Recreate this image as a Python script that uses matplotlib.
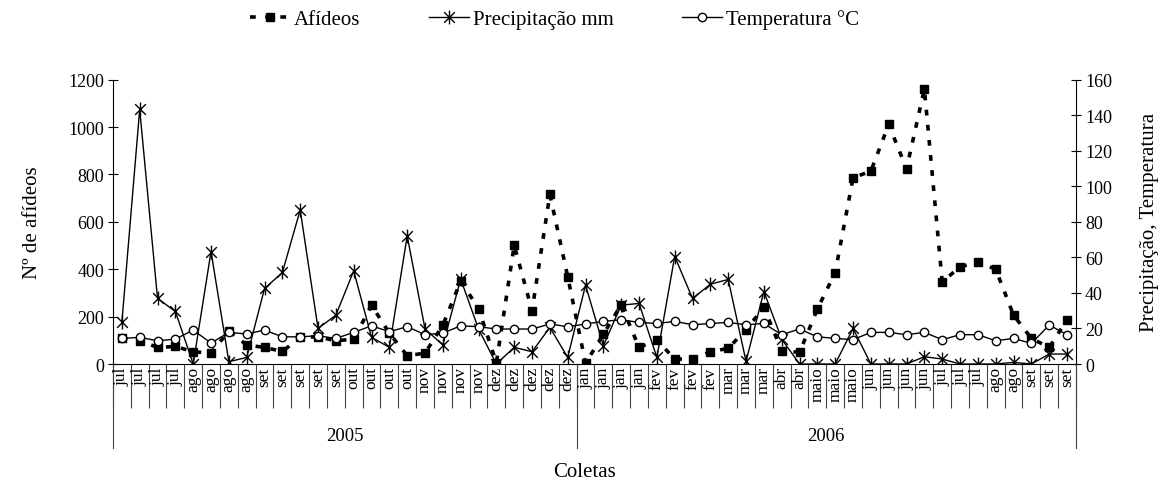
import matplotlib
matplotlib.use('Agg')
import matplotlib.pyplot as plt
from matplotlib.path import Path

plt.rcParams['font.family'] = ['Liberation Serif', 'DejaVu Serif']

# Coletas (category labels) and years
meses_2005 = ['jul'] * 4 + ['ago'] * 4 + ['set'] * 5 + ['out'] * 4 + ['nov'] * 4 + ['dez'] * 5
meses_2006 = (['jan'] * 4 + ['fev'] * 4 + ['mar'] * 3 + ['abr'] * 2 + ['maio'] * 3
              + ['jun'] * 4 + ['jul'] * 3 + ['ago'] * 2 + ['set'] * 3)
anos = ['2005', '2006']
meses = meses_2005 + meses_2006

# Series
afideos = [110, 98, 70, 74, 52, 46, 140, 80, 70, 53,
           112, 115, 98, 105, 248, 130, 35, 46, 164, 350,
           234, 5, 501, 225, 716, 369, 3, 126, 250, 70,
           101, 21, 21, 52, 66, 145, 239, 56, 49, 232,
           386, 786, 814, 1011, 824, 1161, 347, 410, 431, 400,
           206, 108, 70, 187]
precipitacao = [23.4, 143.3, 36.9, 29.6, 0, 63.3, 1.3, 3.7, 42.5, 51.5,
                86.7, 20, 27.5, 52.4, 15, 9.4, 72.1, 19.7, 10.7, 47.8,
                19.7, 0, 9.4, 6.9, 20.6, 3.7, 44.4, 10.3, 33.1, 34.1,
                3.7, 60.5, 36.9, 44.9, 47.6, 1.5, 40.8, 14, 0, 0,
                0, 20, 0, 0, 0, 4.1, 2.8, 0, 0, 0,
                0.9, 0, 5.6, 5.6]
temperatura = [14.4, 15, 13.1, 14, 19.1, 11.8, 17.8, 16.9, 19.1, 15.3,
               15.3, 15.9, 14.4, 17.8, 21.5, 18.2, 21, 16.5, 17.4, 21.5,
               21, 19.7, 19.7, 19.7, 22.5, 21, 22.5, 24, 24.9, 23.4,
               22.8, 24, 22.1, 22.8, 23.4, 22.1, 22.8, 16.5, 19.7, 15.3,
               14.4, 13.7, 17.8, 17.8, 16.5, 17.8, 13.7, 16.5, 16.5, 13.1,
               14.4, 11.6, 21.9, 16.5]

n = len(meses)
x = [i + 0.5 for i in range(n)]

# star marker like the Excel one (X with a vertical bar)
star = Path([(-1, -1), (1, 1), (-1, 1), (1, -1), (0, -1.3), (0, 1.3)],
            [Path.MOVETO, Path.LINETO, Path.MOVETO, Path.LINETO, Path.MOVETO, Path.LINETO])

fig = plt.figure(figsize=(11.68, 4.85), dpi=100)
ax = fig.add_axes([0.0967, 0.2474, 0.8245, 0.5862])
ax2 = ax.twinx()

# aphids on the left axis
l1, = ax.plot(x, afideos, color='black', lw=2.6, ls=(0, (1.6, 2.6)),
              marker='s', ms=6, mfc='black', mec='black', label='Afídeos')

# precipitation and temperature on the right axis
l2, = ax2.plot(x, precipitacao, color='black', lw=1, marker=star, ms=10,
               mfc='none', mec='black', mew=1, label='Precipitação mm')
l3, = ax2.plot(x, temperatura, color='black', lw=1, marker='o', ms=6,
               mfc='white', mec='black', mew=1, label='Temperatura °C')

ax.set_xlim(0, n)
ax.set_ylim(0, 1200)
ax.set_yticks(range(0, 1201, 200))
ax2.set_ylim(0, 160)
ax2.set_yticks(range(0, 161, 20))

for a in (ax, ax2):
    a.spines['top'].set_visible(False)
    a.tick_params(axis='y', direction='inout', length=7, width=0.8, labelsize=13, pad=3)
    for s in a.spines.values():
        s.set_linewidth(0.8)
ax2.spines['left'].set_visible(False)
ax2.spines['bottom'].set_visible(False)
ax.spines['right'].set_visible(False)

# category separators below the axis
ax.set_xticks(range(0, n + 1))
ax.set_xticklabels([])
ax.tick_params(axis='x', direction='out', length=32, width=0.8, color='#444444')

xt = ax.get_xaxis_transform()
for i, m in enumerate(meses):
    ax.text(i + 0.5, -0.008, m, rotation=90, ha='center', va='top',
            fontsize=12.5, transform=xt)

# year groups
n05 = len(meses_2005)
for b in (0, n05, n):
    ax.plot([b, b], [0, -0.297], color='#444444', lw=0.8, transform=xt, clip_on=False)
ax.text(n05 / 2, -0.253, anos[0], ha='center', va='center', fontsize=13.5, transform=xt)
ax.text(n05 + (n - n05) / 2, -0.253, anos[1], ha='center', va='center', fontsize=13.5, transform=xt)

fig.text(0.5, 0.025, 'Coletas', ha='center', va='center', fontsize=15)
ax.set_ylabel('Nº de afídeos', fontsize=15, labelpad=19)
ax2.set_ylabel('Precipitação, Temperatura', fontsize=15, labelpad=20)

fig.legend(handles=[l1, l2, l3], loc='center', bbox_to_anchor=(0.475, 0.958), ncol=3,
           frameon=False, fontsize=15, columnspacing=3.3, handlelength=1.9,
           handletextpad=0.2)

fig.savefig('out.png', dpi=100)
